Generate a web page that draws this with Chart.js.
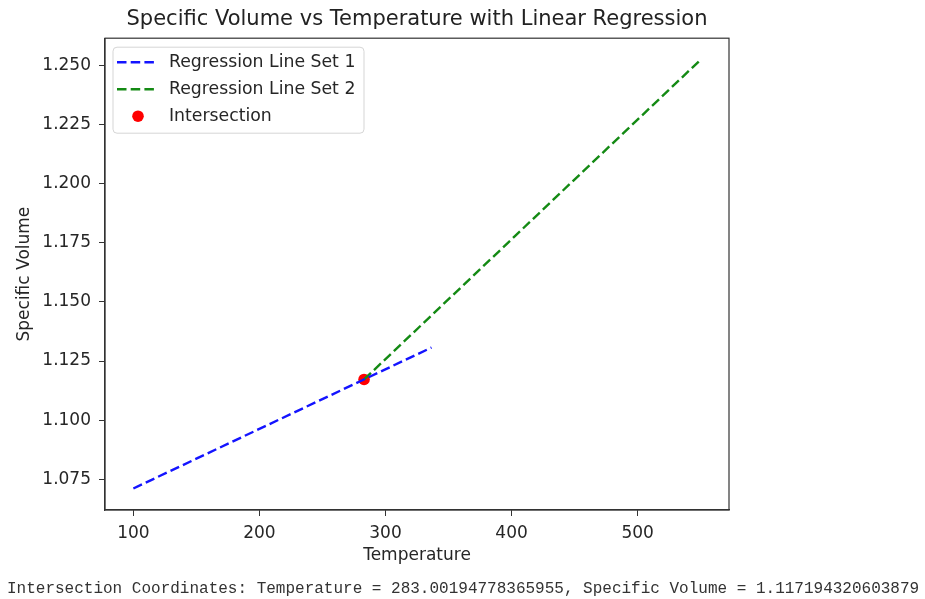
<!DOCTYPE html>
<html lang="en">
<head>
    <meta charset="UTF-8">
    <title>Specific Volume vs Temperature</title>
    <script src="https://cdn.jsdelivr.net/npm/chart.js"></script>
    <style>
        body {
            margin: 0;
            padding: 0;
            background: #fff;
        }
        #wrap {
            position: relative;
            width: 925px;
            height: 599px;
        }
        #result {
            position: absolute;
            left: 7px;
            top: 581px;
            font-family: 'Liberation Mono', 'DejaVu Sans Mono', monospace;
            font-size: 16px;
            line-height: 16px;
            color: #333;
            white-space: pre;
        }
    </style>
</head>
<body>
    <div id="wrap">
        <canvas id="chart"></canvas>
        <div id="result">Intersection Coordinates: Temperature = 283.00194778365955, Specific Volume = 1.117194320603879</div>
    </div>

    <script>
        // regression line endpoints
        const set1Temp = [100, 336.5];
        const set1Vol = [1.0711, 1.1307];
        const set2Temp = [283.0019, 550];
        const set2Vol = [1.117194, 1.2524];
        const crossTemp = [283.0019];
        const crossVol = [1.117194];

        const xTicks = [100, 200, 300, 400, 500];
        const yTicks = [1.075, 1.100, 1.125, 1.150, 1.175, 1.200, 1.225, 1.250];

        const toPoints = (xs, ys) => xs.map((x, i) => ({ x: x, y: ys[i] }));

        Chart.defaults.font.family = "'DejaVu Sans', sans-serif";
        Chart.defaults.color = '#262626';

        // matplotlib style box: top and right spines
        const frame = {
            id: 'frame',
            afterDraw(chart) {
                const { ctx, chartArea: a } = chart;
                ctx.save();
                ctx.strokeStyle = '#333';
                ctx.lineWidth = 1.2;
                ctx.strokeRect(a.left, a.top, a.right - a.left, a.bottom - a.top);
                ctx.restore();
            }
        };

        // legend drawn inside the plot, top-left
        const boxLegend = {
            id: 'boxLegend',
            afterDraw(chart) {
                const { ctx, chartArea: a } = chart;
                const x0 = a.left + 8, y0 = a.top + 9;
                ctx.save();
                ctx.fillStyle = 'rgba(255,255,255,0.8)';
                ctx.strokeStyle = '#d5d5d5';
                ctx.lineWidth = 1;
                ctx.beginPath();
                ctx.roundRect(x0, y0, 251, 86, 4);
                ctx.fill();
                ctx.stroke();
                ctx.font = "17.3px 'DejaVu Sans'";
                ctx.textBaseline = 'middle';
                chart.data.datasets.forEach((ds, i) => {
                    const cy = y0 + 15 + i * 27;
                    if (ds.showLine) {
                        ctx.strokeStyle = ds.borderColor;
                        ctx.lineWidth = ds.borderWidth;
                        ctx.setLineDash(ds.borderDash);
                        ctx.beginPath();
                        ctx.moveTo(x0 + 4, cy);
                        ctx.lineTo(x0 + 42, cy);
                        ctx.stroke();
                        ctx.setLineDash([]);
                    } else {
                        ctx.fillStyle = ds.backgroundColor;
                        ctx.beginPath();
                        ctx.arc(x0 + 25, cy, ds.pointRadius, 0, Math.PI * 2);
                        ctx.fill();
                    }
                    ctx.fillStyle = '#262626';
                    ctx.fillText(ds.label, x0 + 56, cy);
                });
                ctx.restore();
            }
        };

        new Chart(document.getElementById('chart'), {
            type: 'scatter',
            data: {
                datasets: [{
                    label: 'Regression Line Set 1',
                    data: toPoints(set1Temp, set1Vol),
                    showLine: true,
                    borderColor: 'rgb(20, 20, 255)',
                    borderWidth: 2.4,
                    borderDash: [9.5, 4.2],
                    pointRadius: 0
                }, {
                    label: 'Regression Line Set 2',
                    data: toPoints(set2Temp, set2Vol),
                    showLine: true,
                    borderColor: 'rgb(20, 138, 20)',
                    borderWidth: 2.4,
                    borderDash: [9.5, 4.2],
                    pointRadius: 0
                }, {
                    label: 'Intersection',
                    data: toPoints(crossTemp, crossVol),
                    showLine: false,
                    backgroundColor: 'rgb(255, 0, 0)',
                    borderWidth: 0,
                    pointRadius: 5.8
                }]
            },
            options: {
                responsive: true,
                maintainAspectRatio: false,
                animation: false,
                layout: {
                    padding: { left: 0, right: 196, top: 0, bottom: 30 }
                },
                plugins: {
                    legend: { display: false },
                    tooltip: { enabled: false },
                    title: {
                        display: true,
                        text: 'Specific Volume vs Temperature with Linear Regression',
                        fullSize: false,
                        color: '#222',
                        font: { size: 21, weight: 'normal' },
                        padding: { top: 7, bottom: 6 }
                    }
                },
                scales: {
                    x: {
                        type: 'linear',
                        min: 77.5,
                        max: 572.5,
                        afterBuildTicks: s => { s.ticks = xTicks.map(v => ({ value: v })); },
                        afterFit: s => { s.height = 59; },
                        ticks: {
                            font: { size: 17 },
                            padding: 7,
                            maxRotation: 0,
                            callback: v => String(v)
                        },
                        grid: {
                            drawOnChartArea: false,
                            tickLength: 6,
                            color: '#333'
                        },
                        border: { color: '#333', width: 1.2 },
                        title: {
                            display: true,
                            text: 'Temperature',
                            font: { size: 17 },
                            padding: { top: 0, bottom: 3 }
                        }
                    },
                    y: {
                        type: 'linear',
                        min: 1.0620,
                        max: 1.2615,
                        afterBuildTicks: s => { s.ticks = yTicks.map(v => ({ value: v })); },
                        afterFit: s => { s.width = 105; },
                        ticks: {
                            font: { size: 17 },
                            padding: 8,
                            callback: v => v.toFixed(3)
                        },
                        grid: {
                            drawOnChartArea: false,
                            tickLength: 6,
                            color: '#333'
                        },
                        border: { color: '#333', width: 1.2 },
                        title: {
                            display: true,
                            text: 'Specific Volume',
                            font: { size: 17 },
                            padding: { top: 14, bottom: 0 }
                        }
                    }
                }
            },
            plugins: [frame, boxLegend]
        });
    </script>
</body>
</html>
